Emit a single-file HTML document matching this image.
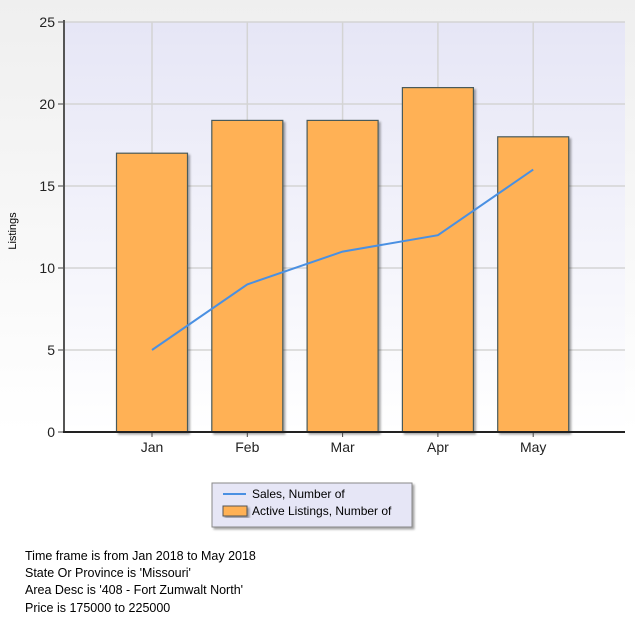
<!DOCTYPE html>
<html><head><meta charset="utf-8"><style>
body{margin:0;width:635px;height:619px;overflow:hidden;background:linear-gradient(#efefef,#fff 70%);font-family:"Liberation Sans",sans-serif;}
#info{position:absolute;left:25px;top:548px;font-size:12.5px;line-height:17.2px;color:#000;}
</style></head><body>
<svg id="chart" width="635" height="540" style="position:absolute;left:0;top:0">
<defs>
<linearGradient id="pg" x1="0" y1="0" x2="0" y2="1"><stop offset="0" stop-color="#e6e6f6"/><stop offset="1" stop-color="#ffffff"/></linearGradient>
<filter id="sh" x="-10%" y="-10%" width="130%" height="130%"><feDropShadow dx="2" dy="2" stdDeviation="1" flood-color="#000" flood-opacity="0.35"/></filter>
</defs>
<rect x="64" y="22" width="561" height="410" fill="url(#pg)"/>
<g id="grid"></g><g id="bars"></g><g id="line"></g><g id="axes"></g>
<text transform="translate(16,231) rotate(-90)" font-size="11" text-anchor="middle">Listings</text>
<g>
<rect x="212" y="483" width="200" height="44" fill="#e6e6f6" stroke="#888" filter="url(#sh)"/>
<line x1="223" y1="494" x2="246" y2="494" stroke="#4a90e2" stroke-width="2"/>
<text x="252" y="498" font-size="12">Sales, Number of</text>
<rect x="223" y="506" width="24" height="10" fill="#ffb155" stroke="#555" filter="url(#sh)"/>
<text x="252" y="515" font-size="12">Active Listings, Number of</text>
</g>
</svg>
<div id="info">Time frame is from Jan 2018 to May 2018<br>State Or Province is 'Missouri'<br>Area Desc is '408 - Fort Zumwalt North'<br>Price is 175000 to 225000</div>
<script>
const categories=["Jan","Feb","Mar","Apr","May"];
const activeListings=[17,19,19,21,18];
const sales=[5,9,11,12,16];
const yTicks=[0,5,10,15,20,25];
const NS="http://www.w3.org/2000/svg";
function y(v){return 432-v*16.4;}
function x(i){return 152+i*95.3;}
function mk(tag,attrs,parent){const e=document.createElementNS(NS,tag);for(const k in attrs)e.setAttribute(k,attrs[k]);document.getElementById(parent).appendChild(e);return e;}
yTicks.forEach(t=>{
 if(t>0){const g=mk("line",{x1:64,x2:625,y1:y(t),y2:y(t),stroke:"#d4d4d4","stroke-width":1.5},"grid");
 
 }
 const tk=mk("line",{x1:58,x2:64,y1:y(t),y2:y(t),stroke:"#444"},"axes");
 
 
 const tx=mk("text",{x:55,y:y(t)+5,"font-size":14,"text-anchor":"end",fill:"#222"},"axes");
 tx.textContent=t;
 
 
});
categories.forEach((c,i)=>{
 const g=mk("line",{x1:x(i),x2:x(i),y1:22,y2:432,stroke:"#d4d4d4","stroke-width":1.5},"grid");
 
 
 const b=mk("rect",{x:x(i)-35.5,y:y(activeListings[i]),width:71,height:432-y(activeListings[i]),fill:"#ffb155",stroke:"#4a5a5a","stroke-width":1.2,filter:"url(#sh)"},"bars");
 
 
 const tk=mk("line",{x1:x(i),x2:x(i),y1:432,y2:437,stroke:"#444"},"axes");
 
 
 const tx=mk("text",{x:x(i),y:452,"font-size":14,"text-anchor":"middle",fill:"#222"},"axes");
 tx.textContent=c;
 
 
});
const p=mk("polyline",{points:sales.map((v,i)=>x(i)+","+y(v)).join(" "),fill:"none",stroke:"#4a90e2","stroke-width":2},"line");


const ya=mk("line",{x1:64,x2:64,y1:20,y2:433,stroke:"#555","stroke-width":2},"axes");


const xa=mk("line",{x1:63,x2:625,y1:432,y2:432,stroke:"#222","stroke-width":2},"axes");


</script>
</body></html>
